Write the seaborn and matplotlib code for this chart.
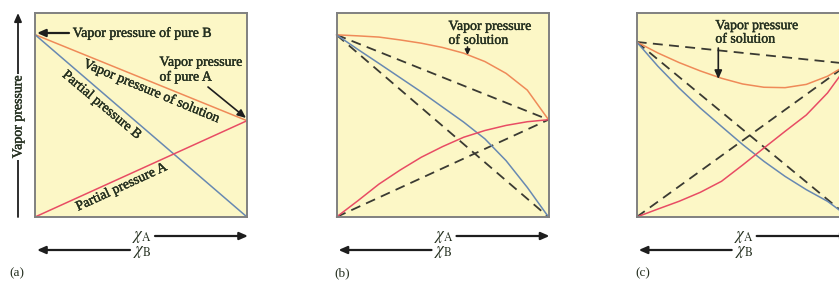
import matplotlib
matplotlib.use("Agg")
import matplotlib.pyplot as plt
import matplotlib.patheffects as pe
import seaborn as sns

# --- data (mole fraction of A) ---
x_ends = [0, 1]
x_frac = [0, 0.1, 0.2, 0.3, 0.4, 0.5, 0.6, 0.7, 0.8, 0.9, 1.0]

# (a) ideal solution
pa_a = [0, 0.472]
pb_a = [0.894, 0]
sol_a = [0.894, 0.472]

# (b) positive deviation
sol_b = [0.893, 0.888, 0.882, 0.868, 0.852, 0.831, 0.803, 0.762, 0.704, 0.622, 0.477]
pa_b = [0, 0.079, 0.161, 0.230, 0.293, 0.345, 0.391, 0.424, 0.449, 0.467, 0.477]
pb_b = [0.893, 0.822, 0.753, 0.683, 0.613, 0.539, 0.465, 0.383, 0.276, 0.145, 0]
ideal_b = {"sol": [0.893, 0.477], "pa": [0, 0.477], "pb": [0.893, 0]}

# (c) negative deviation
sol_c = [0.858, 0.804, 0.757, 0.716, 0.680, 0.652, 0.636, 0.634, 0.650, 0.690, 0.751]
pa_c = [0, 0.039, 0.077, 0.121, 0.175, 0.255, 0.338, 0.420, 0.500, 0.608, 0.751]
pb_c = [0.858, 0.739, 0.632, 0.534, 0.444, 0.355, 0.273, 0.199, 0.134, 0.077, 0]
ideal_c = {"sol": [0.858, 0.751], "pa": [0, 0.751], "pb": [0.858, 0]}

panel_tags = ["(a)", "(b)", "(c)"]

sns.set_style("white")
plt.rcParams["font.family"] = ["Liberation Serif", "DejaVu Serif"]
plt.rcParams["mathtext.fontset"] = "stix"

W, H = 839, 282
FILL = "#fcf7c6"
ORANGE = "#ef8a58"
RED = "#e84c64"
BLUE = "#6889b2"
DASH = "#3a3a32"
TXT = "#253020"

fig = plt.figure(figsize=(W / 100, H / 100), dpi=100)
lefts = [35, 336.5, 636.7]
axes = [fig.add_axes([l / W, 65 / H, 212 / W, 204 / H]) for l in lefts]

# printed text looks a bit heavier than the plain font
thick = [pe.withStroke(linewidth=0.3, foreground=TXT)]


def fxy(px, py):
    return px / W, 1 - py / H


def arrow(ax, start, end, lw=1.3, hl=0.5, hw=0.22):
    ax.annotate("", xy=fxy(*end), xytext=fxy(*start), xycoords="figure fraction",
                textcoords="figure fraction", annotation_clip=False,
                arrowprops=dict(arrowstyle=f"-|>,head_length={hl},head_width={hw}",
                                color="#1e1e1e", lw=lw, shrinkA=0, shrinkB=0))


for ax in axes:
    ax.set_facecolor(FILL)
    ax.set_xlim(0, 1)
    ax.set_ylim(0, 1)
    ax.set_xticks([])
    ax.set_yticks([])
    for s in ax.spines.values():
        s.set_color("#808080")
        s.set_linewidth(1.4)

lkw = dict(lw=1.1, clip_on=False, legend=False)
dkw = dict(lw=1.3, color=DASH, linestyle=(0, (5.5, 3.5)), clip_on=False, legend=False)

# (a)
ax = axes[0]
sns.lineplot(x=x_ends, y=sol_a, ax=ax, color=ORANGE, **lkw)
sns.lineplot(x=x_ends, y=pb_a, ax=ax, color=BLUE, **lkw)
sns.lineplot(x=x_ends, y=pa_a, ax=ax, color=RED, **lkw)

# (b) and (c)
for ax, sol, pa, pb, ideal in [(axes[1], sol_b, pa_b, pb_b, ideal_b),
                               (axes[2], sol_c, pa_c, pb_c, ideal_c)]:
    for key in ["sol", "pb", "pa"]:
        sns.lineplot(x=x_ends, y=ideal[key], ax=ax, **dkw)
    sns.lineplot(x=x_frac, y=sol, ax=ax, color=ORANGE, **lkw)
    sns.lineplot(x=x_frac, y=pb, ax=ax, color=BLUE, **lkw)
    sns.lineplot(x=x_frac, y=pa, ax=ax, color=RED, **lkw)

tk = dict(color=TXT, fontsize=10, path_effects=thick)

# panel (a) labels
ax = axes[0]
ax.text(0.178, 0.902, "Vapor pressure of pure B", transform=ax.transAxes,
        ha="left", va="center", **tk)
arrow(ax, (69, 33), (37, 33), lw=1.6)
ax.text(0.587, 0.722, "Vapor pressure\nof pure A", transform=ax.transAxes,
        ha="left", va="center", linespacing=1.1, **tk)
arrow(ax, (208, 87), (246, 118), lw=1.2)
ax.text(0.549, 0.618, "Vapor pressure of solution", transform=ax.transAxes,
        ha="center", va="center", rotation=-22.5, **tk)
ax.text(0.315, 0.549, "Partial pressure B", transform=ax.transAxes,
        ha="center", va="center", rotation=-40, **tk)
ax.text(0.408, 0.147, "Partial pressure A", transform=ax.transAxes,
        ha="center", va="center", rotation=24.7, **tk)

# y axis arrow with label
arrow(ax, (18, 217), (18, 13), lw=1.3)
fig.text(18 / W, 1 - 117 / H, "Vapor pressure", rotation=90, ha="center", va="center",
         bbox=dict(facecolor="white", edgecolor="none", pad=1.5), **tk)

# panel (b) / (c) labels
axes[1].text(0.528, 0.9, "Vapor pressure\nof solution", transform=axes[1].transAxes,
             ha="left", va="center", linespacing=1.1, **tk)
arrow(axes[1], (467.5, 47), (467.5, 55), lw=1.2, hl=0.3, hw=0.15)
axes[2].text(0.371, 0.905, "Vapor pressure\nof solution", transform=axes[2].transAxes,
             ha="left", va="center", linespacing=1.05, **tk)
arrow(axes[2], (718.3, 48), (718.3, 79), lw=1.2)

# mole fraction arrows under each panel
for left, tag in zip(lefts, panel_tags):
    fig.text((left + 107) / W, 1 - 237 / H, r"$\chi_{\rm A}$", ha="center", va="center",
             color=TXT, fontsize=12)
    fig.text((left + 107) / W, 1 - 252 / H, r"$\chi_{\rm B}$", ha="center", va="center",
             color=TXT, fontsize=12)
    arrow(axes[0], (left + 120, 236), (left + 213, 236), lw=1.6)
    arrow(axes[0], (left + 95, 250), (left + 2, 250), lw=1.6)
    tx = 17 if tag == "(a)" else left + 6
    fig.text(tx / W, 1 - 273 / H, tag, ha="center", va="center", color=TXT, fontsize=9.5)

fig.savefig("out.png", dpi=100)
